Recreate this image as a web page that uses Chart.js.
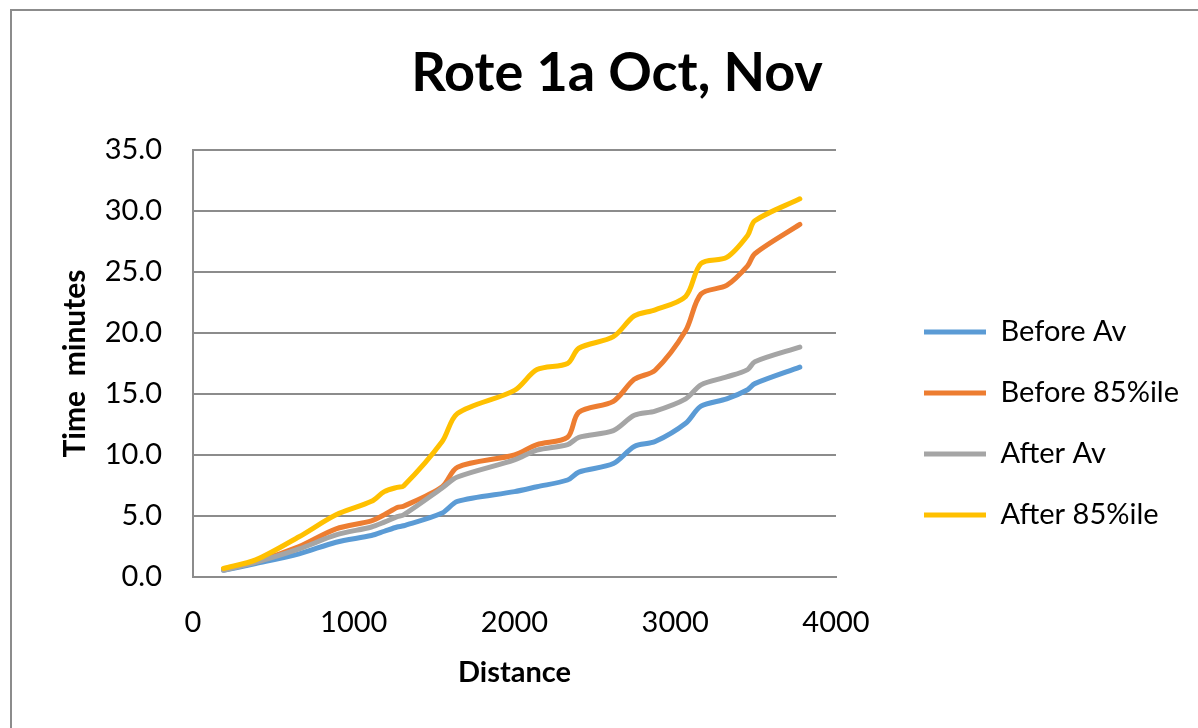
<!DOCTYPE html>
<html><head><meta charset="utf-8">
<script src="https://cdn.jsdelivr.net/npm/chart.js@4.4.1/dist/chart.umd.min.js"></script>
<style>
html,body{margin:0;padding:0;background:#fff;overflow:hidden;}
#wrap{position:relative;width:1198px;height:728px;overflow:hidden;}
#frame{position:absolute;left:10px;top:9px;width:1400px;height:900px;border-left:2px solid #8c8c8c;border-top:2px solid #8c8c8c;}
canvas{position:absolute;left:0;top:0;}
</style></head><body>
<div id="wrap"><div id="frame"></div><canvas id="c" width="1198" height="728"></canvas></div>
<script>
const chartTitle = 'Rote 1a Oct, Nov';
const xTitle = 'Distance';
const yTitle = 'Time  minutes';
const seriesNames = ['Before Av', 'Before 85%ile', 'After Av', 'After 85%ile'];
const seriesColors = ['#5B9BD5', '#ED7D31', '#A5A5A5', '#FFC000'];
const distance = [190, 390, 660, 890, 1110, 1190, 1270, 1310, 1550, 1645, 2000, 2140, 2330, 2400, 2615, 2745, 2875, 3065, 3160, 3320, 3450, 3495, 3775];
const beforeAv = [0.55, 1.1, 1.9, 2.85, 3.4, 3.75, 4.1, 4.2, 5.25, 6.2, 7.0, 7.4, 7.95, 8.6, 9.3, 10.7, 11.1, 12.6, 14.0, 14.6, 15.35, 15.85, 17.2];
const before85 = [0.65, 1.25, 2.5, 3.95, 4.6, 5.1, 5.7, 5.8, 7.4, 9.0, 10.0, 10.85, 11.45, 13.5, 14.4, 16.2, 16.95, 20.2, 23.2, 23.9, 25.5, 26.5, 28.9];
const afterAv = [0.55, 1.2, 2.3, 3.45, 4.1, 4.5, 4.95, 5.1, 7.3, 8.2, 9.6, 10.4, 10.85, 11.45, 12.0, 13.25, 13.6, 14.6, 15.75, 16.4, 17.0, 17.65, 18.85];
const after85 = [0.7, 1.4, 3.3, 5.1, 6.2, 7.0, 7.35, 7.45, 11.1, 13.4, 15.3, 17.0, 17.5, 18.75, 19.7, 21.4, 21.9, 23.0, 25.7, 26.2, 28.0, 29.2, 31.0];
const xTicks = [0, 1000, 2000, 3000, 4000];
const yTicks = [0, 5, 10, 15, 20, 25, 30, 35];

const allSeries = [beforeAv, before85, afterAv, after85];
const FONT = 'Lato';
const GRID = '#8c8c8c';
const LEGEND_W = 306;

const legendFit = {
  id: 'legendFit',
  beforeUpdate(chart) {
    const lg = chart.legend;
    if (lg && !lg._patched) {
      const orig = lg.fit;
      lg.fit = function () { orig.call(this); this.width = LEGEND_W; };
      lg._patched = true;
    }
  }
};

const datasets = allSeries.map((vals, i) => ({
  label: seriesNames[i],
  data: distance.map((d, j) => ({ x: d, y: vals[j] })),
  borderColor: seriesColors[i],
  backgroundColor: seriesColors[i],
  borderWidth: 5,
  pointRadius: 0,
  tension: 0.3,
  borderCapStyle: 'round',
  borderJoinStyle: 'round',
  order: 4 - i,
  fill: false
}));

new Chart(document.getElementById('c'), {
  type: 'line',
  data: { datasets },
  plugins: [legendFit],
  options: {
    responsive: false,
    animation: false,
    layout: { padding: { left: 36, right: 0, top: 0, bottom: 0 } },
    plugins: {
      title: {
        display: true, text: chartTitle, color: '#000',
        font: { family: FONT, size: 54, weight: 'bold', lineHeight: 1.2 },
        padding: { top: 41, bottom: 44.2 }
      },
      legend: {
        position: 'right',
        align: 'center',
        title: { display: true, text: '', font: { size: 10, lineHeight: 1 }, padding: { top: 109, bottom: 0 } },
        labels: {
          usePointStyle: true, pointStyle: 'line', pointStyleWidth: 62,
          boxHeight: 29, padding: 32, color: '#000',
          font: { family: FONT, size: 29 },
          sort: (a, b) => a.datasetIndex - b.datasetIndex
        }
      },
      tooltip: { enabled: false }
    },
    scales: {
      x: {
        type: 'linear', min: 0, max: 4000,
        afterBuildTicks: (s) => { s.ticks = xTicks.map(v => ({ value: v })); },
        afterFit: (s) => { s.height = 151; },
        grid: { display: false, drawTicks: false },
        border: { display: true, color: GRID, width: 2 },
        ticks: { color: '#000', padding: 28, font: { family: FONT, size: 29 }, maxRotation: 0, callback: (v) => String(v) },
        title: { display: true, text: xTitle, color: '#000', font: { family: FONT, size: 29, weight: 'bold', lineHeight: 1.2 }, padding: { top: 4, bottom: 37.6 } }
      },
      y: {
        type: 'linear', min: 0, max: 35,
        afterBuildTicks: (s) => { s.ticks = yTicks.map(v => ({ value: v })); },
        afterFit: (s) => { s.width = 157; },
        grid: { color: GRID, lineWidth: 2, drawTicks: false },
        border: { display: true, color: GRID, width: 2 },
        ticks: { color: '#000', padding: 31, font: { family: FONT, size: 29 }, callback: (v) => Number(v).toFixed(1) },
        title: { display: true, text: yTitle, color: '#000', font: { family: FONT, size: 30, weight: 'bold', lineHeight: 1.2 }, padding: { top: 21, bottom: 4 } }
      },
      spacer: {
        type: 'linear', axis: 'y', position: 'right', display: true,
        afterFit: (s) => { s.width = 56; },
        grid: { display: false, drawTicks: false },
        border: { display: false },
        ticks: { display: false }
      }
    }
  }
});
</script>
</body></html>
